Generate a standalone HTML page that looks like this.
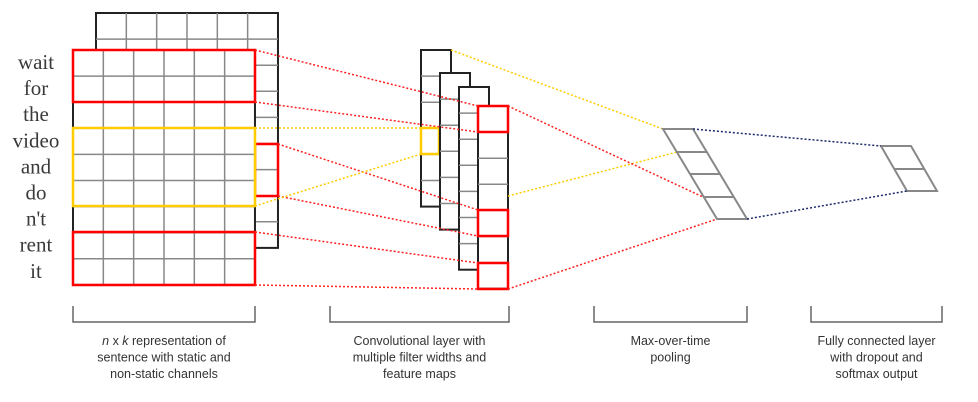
<!DOCTYPE html>
<html><head><meta charset="utf-8"><style>
body{margin:0;background:#fff;width:978px;height:402px;overflow:hidden}
svg{display:block}
.w{font-family:"Liberation Serif",serif;font-size:21px;fill:#3a3a3a;text-anchor:middle}
.c{font-family:"Liberation Sans",sans-serif;font-size:12.5px;fill:#333;text-anchor:middle}
</style></head><body>
<svg width="978" height="402">
<g id="g" fill="none"></g>
</svg>
<script>
const words=["wait","for","the","video","and","do","n't","rent","it"];
const captions=[["n x k representation of","sentence with static and","non-static channels"],["Convolutional layer with","multiple filter widths and","feature maps"],["Max-over-time","pooling"],["Fully connected layer","with dropout and","softmax output"]];
const g=document.getElementById('g');
const NS="http://www.w3.org/2000/svg";
function el(t,a,name){const e=document.createElementNS(NS,t);for(const k in a)e.setAttribute(k,a[k]);


g.appendChild(e);return e;}
function ln(x1,y1,x2,y2,s,w,name,dash){const a={x1,y1,x2,y2,stroke:s,'stroke-width':w};if(dash)a['stroke-dasharray']=dash;return el('line',a,name);}
function rect(x,y,w,h,s,sw,name,fill){return el('rect',{x,y,width:w,height:h,stroke:s,'stroke-width':sw,fill:fill||'none'},name);}
function grid(x,y,cols,rows,cw,rh,name){
 rect(x,y,cols*cw,rows*rh,'#222',2,name,'#fff');
 for(let i=1;i<cols;i++)ln(x+i*cw,y,x+i*cw,y+rows*rh,'#888',1.5,name+'-col');
 for(let j=1;j<rows;j++)ln(x,y+j*rh,x+cols*cw,y+j*rh,'#888',1.5,name+'-row');
}
const rh=26.1,cw=30.33;
grid(96,13,6,9,cw,rh,'static-channel-matrix');
rect(255,144,23,52,'#f00',2.5,'back-red-filter');
grid(73,50,6,9,cw,rh,'nonstatic-channel-matrix');
rect(73,50,182,52,'#f00',2.5,'red-filter-top');
rect(73,128,182,78,'#fc0',2.5,'yellow-filter');
rect(73,232,182,53,'#f00',2.5,'red-filter-bottom');
words.forEach((w,i)=>{const t=el('text',{x:36,y:50+rh*i+19,class:'w'},'word-'+i);t.textContent=w;});
const rd='2,2';
function fmap(x,y,n,name){rect(x,y,30,n*26.1,'#222',2,name,'#fff');for(let j=1;j<n;j++)ln(x,y+j*26.1,x+30,y+j*26.1,'#888',1.5,name+'-row');}
fmap(421,50,6,'feature-map-1');
rect(421,128,18,26,'#fc0',2.5,'yellow-feature');
fmap(440,73,6,'feature-map-2');
fmap(459,87,7,'feature-map-3');
fmap(478,106,7,'feature-map-4');
rect(478,106,30,26,'#f00',2.5,'red-feature-1');
rect(478,210,30,26,'#f00',2.5,'red-feature-2');
rect(478,263,30,26,'#f00',2.5,'red-feature-3');
ln(255,50,478,106,'#f22',1.5,'red-dotted',rd);
ln(255,102,478,132,'#f22',1.5,'red-dotted',rd);
ln(278,144,478,210,'#f22',1.5,'red-dotted',rd);
ln(278,196,478,236,'#f22',1.5,'red-dotted',rd);
ln(255,232,478,263,'#f22',1.5,'red-dotted',rd);
ln(255,285,478,289,'#f22',1.5,'red-dotted',rd);
ln(255,128,421,128,'#fc0',1.5,'yellow-dotted',rd);
ln(255,206,421,154,'#fc0',1.5,'yellow-dotted',rd);
ln(451,50,663,129,'#fc0',1.5,'yellow-dotted',rd);
ln(508,196,677,152,'#fc0',1.5,'yellow-dotted',rd);
ln(508,106,703,197,'#f22',1.5,'red-dotted',rd);
ln(508,289,717,219,'#f22',1.5,'red-dotted',rd);
el('polygon',{points:'663,129 693,129 747,219 717,219',stroke:'#888',"stroke-width":2,fill:'#fff'},'pooling-layer');
[152,174,197].forEach(y=>{const o=(y-129)*0.6;ln(663+o,y,693+o,y,'#888',2,'pooling-row');});
el('polygon',{points:'881,146 911,146 937,191 907,191',stroke:'#888',"stroke-width":2,fill:'#fff'},'fc-layer');
ln(894,169,924,169,'#888',2,'fc-row');
ln(693,129,881,146,'#1a2a6a',1.5,'navy-dotted',rd);
ln(747,219,907,191,'#1a2a6a',1.5,'navy-dotted',rd);
const br=[[73,255],[330,509],[594,747],[811,942]];
br.forEach((b,i)=>{
 el('polyline',{points:`${b[0]},306 ${b[0]},322 ${b[1]},322 ${b[1]},306`,stroke:'#666','stroke-width':1.5},'bracket-'+i);
 captions[i].forEach((c,j)=>{const t=el('text',{x:(b[0]+b[1])/2,y:345+j*16.5,class:'c'},'caption-'+i);
  if(i===0&&j===0){t.innerHTML='<tspan font-style="italic">n</tspan> x <tspan font-style="italic">k</tspan> representation of';}else t.textContent=c;});
});
</script>
</body></html>
